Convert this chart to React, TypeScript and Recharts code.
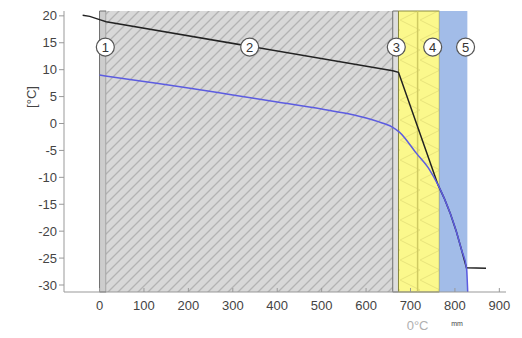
import {
  LineChart,
  Line,
  XAxis,
  YAxis,
  ReferenceArea,
  ReferenceLine,
  ReferenceDot,
} from "recharts";

// wall position in mm, temperature in °C
const xTicks = [0, 100, 200, 300, 400, 500, 600, 700, 800, 900];
const yTicks = [-30, -25, -20, -15, -10, -5, 0, 5, 10, 15, 20];

const tempPoints = [
  { x: -38, t: 20.1 },
  { x: -22, t: 19.9 },
  { x: 0, t: 19.3 },
  { x: 15, t: 18.9 },
  { x: 660, t: 9.8 },
  { x: 673, t: 9.5 },
  { x: 762, t: -11.4 },
  { x: 776, t: -13.9 },
  { x: 790, t: -16.8 },
  { x: 803, t: -20.0 },
  { x: 815, t: -23.5 },
  { x: 826, t: -26.8 },
  { x: 870, t: -26.9 },
];

const dewPoints = [
  { x: 0, t: 9.0 },
  { x: 100, t: 7.8 },
  { x: 200, t: 6.6 },
  { x: 300, t: 5.3 },
  { x: 400, t: 4.0 },
  { x: 500, t: 2.7 },
  { x: 560, t: 1.8 },
  { x: 610, t: 0.8 },
  { x: 640, t: 0.0 },
  { x: 660, t: -0.7 },
  { x: 675, t: -1.6 },
  { x: 713, t: -5.5 },
  { x: 743, t: -8.6 },
  { x: 762, t: -11.4 },
  { x: 776, t: -13.9 },
  { x: 790, t: -16.8 },
  { x: 803, t: -20.0 },
  { x: 815, t: -23.5 },
  { x: 826, t: -26.8 },
  { x: 830, t: -34 },
];

const layerFrom = [0, 15, 660, 673, 765];
const layerTo = [15, 660, 673, 765, 828];
const layerFill = ["#cdcdcd", "url(#hatch)", "#dedede", "url(#insul)", "#a2bce8"];
const layerStroke = ["#6e6e6e", "none", "#6e6e6e", "#8a8a40", "none"];

const markerNames = ["1", "2", "3", "4", "5"];
const markerX = [13, 338, 668, 750, 824];
const markerY = 14.2;

const zeroLineX = 716;

function BottomTick({ x, y, payload }: any) {
  return (
    <g>
      <line x1={x} x2={x} y1={y} y2={y - 4} stroke="#999" />
      <text
        x={x}
        y={y + 9}
        dy="0.71em"
        textAnchor="middle"
        fill="#444"
        fontSize={13}
      >
        {payload.value}
      </text>
    </g>
  );
}

function UnitLabel({ viewBox }: any) {
  const cx = viewBox.x + 15;
  const cy = viewBox.y + 86;
  return (
    <text
      x={cx}
      y={cy}
      transform={`rotate(-90 ${cx} ${cy})`}
      textAnchor="middle"
      dominantBaseline="central"
      fill="#444"
      fontSize={13}
    >
      [°C]
    </text>
  );
}

function MmLabel({ viewBox }: any) {
  return (
    <text
      x={viewBox.x + 393}
      y={viewBox.y + 34}
      textAnchor="middle"
      fill="#444"
      fontSize={7}
    >
      mm
    </text>
  );
}

export default function App() {
  return (
    <div style={{ position: "absolute", left: 0, top: 0, background: "#fff" }}>
      <LineChart
        width={522}
        height={338}
        margin={{ top: 11, right: 16, bottom: 16, left: 16 }}
        style={{ fontFamily: "'Liberation Sans', Arial, sans-serif" }}
      >
        <defs>
          <pattern id="hatch" patternUnits="userSpaceOnUse" width="10" height="10">
            <rect width="10" height="10" fill="#d8d8d8" />
            <path
              d="M-1,1 L1,-1 M0,10 L10,0 M9,11 L11,9"
              stroke="#b3b3b3"
              strokeWidth="1.3"
            />
          </pattern>
          <pattern id="insul" patternUnits="userSpaceOnUse" width="20" height="20">
            <rect width="20" height="20" fill="#fbf88c" />
            <path d="M0,0 L20,10 L0,20" stroke="#e0da74" strokeWidth="0.7" fill="none" />
          </pattern>
        </defs>
        <XAxis
          dataKey="x"
          type="number"
          domain={[-80, 915]}
          ticks={xTicks}
          allowDataOverflow
          tickLine={false}
          tickSize={0}
          tickMargin={0}
          tick={<BottomTick />}
          axisLine={{ stroke: "#999" }}
          height={30}
          label={<MmLabel />}
        />
        <XAxis
          xAxisId="top"
          orientation="top"
          type="number"
          domain={[-80, 915]}
          ticks={xTicks}
          allowDataOverflow
          mirror
          tick={false}
          tickSize={3}
          height={0}
          axisLine={{ stroke: "#999" }}
          tickLine={{ stroke: "#999" }}
        />
        <YAxis
          type="number"
          domain={[-31.3, 20.9]}
          ticks={yTicks}
          allowDataOverflow
          width={48}
          tickSize={5}
          tickMargin={2}
          tick={{ fill: "#444", fontSize: 13 }}
          axisLine={{ stroke: "#999" }}
          tickLine={{ stroke: "#999" }}
          label={<UnitLabel />}
        />
        <YAxis
          yAxisId="right"
          orientation="right"
          type="number"
          domain={[-31.3, 20.9]}
          ticks={yTicks}
          allowDataOverflow
          mirror
          tick={false}
          tickSize={3}
          width={0}
          axisLine={{ stroke: "#999" }}
          tickLine={{ stroke: "#999" }}
        />
        {layerFrom.map((from, i) => (
          <ReferenceArea
            key={"layer" + i}
            x1={from}
            x2={layerTo[i]}
            fill={layerFill[i]}
            fillOpacity={1}
            stroke={layerStroke[i]}
            strokeWidth={1}
          />
        ))}
        <ReferenceLine
          x={zeroLineX}
          stroke="#cfca62"
          strokeWidth={1.5}
          label={{ value: "0°C", position: "bottom", offset: 29, fill: "#b0b0b0", fontSize: 13 }}
        />
        <Line
          data={tempPoints}
          dataKey="t"
          type="linear"
          stroke="#222"
          strokeWidth={1.5}
          dot={false}
          isAnimationActive={false}
        />
        <Line
          data={dewPoints}
          dataKey="t"
          type="monotone"
          stroke="#5c5ce0"
          strokeWidth={1.5}
          dot={false}
          isAnimationActive={false}
        />
        {markerX.map((mx, i) => (
          <ReferenceDot
            key={"m" + i}
            x={mx}
            y={markerY}
            r={9}
            fill="#fff"
            stroke="#555"
            strokeWidth={1.2}
            label={{ value: markerNames[i], position: "center", fill: "#333", fontSize: 13 }}
          />
        ))}
      </LineChart>
    </div>
  );
}
